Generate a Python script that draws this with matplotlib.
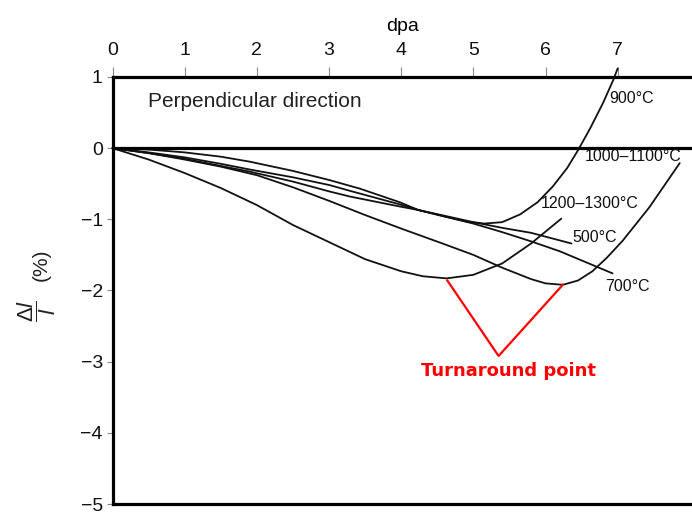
import matplotlib
matplotlib.use('Agg')
import matplotlib.pyplot as plt

plt.rcParams['font.family'] = ['Liberation Sans', 'DejaVu Sans']
plt.rcParams['mathtext.fontset'] = 'custom'
plt.rcParams['mathtext.rm'] = 'Liberation Sans'
plt.rcParams['mathtext.it'] = 'Liberation Sans:italic'

# 各温度下的尺寸变化曲线 (dpa, Δl/l %)
dpa_900 = [0, 0.5, 1.0, 1.5, 1.9, 2.5, 3.01, 3.43, 3.98, 4.24, 4.6, 4.9, 5.15, 5.4,
           5.65, 5.89, 6.1, 6.3, 6.45, 6.62, 6.8, 6.94, 7.0]
dl_900 = [0, -0.02, -0.06, -0.12, -0.19, -0.32, -0.45, -0.57, -0.76, -0.87, -0.96,
          -1.03, -1.06, -1.04, -0.93, -0.76, -0.54, -0.28, -0.03, 0.28, 0.64, 0.96, 1.12]

dpa_1000 = [0, 0.5, 1.0, 1.5, 2.0, 2.5, 3.0, 3.5, 4.0, 4.6, 5.0, 5.4, 5.8, 6.0, 6.24,
            6.45, 6.65, 6.85, 7.07, 7.44, 7.86]
dl_1000 = [0, -0.07, -0.16, -0.26, -0.38, -0.55, -0.74, -0.94, -1.13, -1.35, -1.50,
           -1.68, -1.84, -1.90, -1.92, -1.86, -1.73, -1.54, -1.30, -0.83, -0.21]

dpa_1200 = [0, 0.5, 1.0, 1.5, 2.0, 2.5, 3.0, 3.5, 4.0, 4.3, 4.63, 5.0, 5.4, 5.8, 6.22]
dl_1200 = [0, -0.16, -0.35, -0.56, -0.80, -1.08, -1.32, -1.56, -1.73, -1.80, -1.83,
           -1.78, -1.62, -1.34, -0.99]

dpa_500 = [0, 0.5, 1.0, 1.5, 1.9, 2.5, 3.01, 3.29, 3.98, 4.24, 4.6, 5.0, 5.4, 5.8, 6.36]
dl_500 = [0, -0.06, -0.13, -0.22, -0.30, -0.41, -0.52, -0.60, -0.79, -0.87, -0.95,
          -1.04, -1.12, -1.19, -1.34]

dpa_700 = [0, 0.5, 1.0, 1.5, 1.9, 2.5, 3.01, 3.29, 3.98, 4.24, 4.6, 5.0, 5.4, 5.8,
           6.2, 6.6, 6.93]
dl_700 = [0, -0.07, -0.15, -0.25, -0.33, -0.47, -0.61, -0.68, -0.82, -0.87, -0.96,
          -1.06, -1.18, -1.31, -1.45, -1.62, -1.76]

curves = [(dpa_900, dl_900), (dpa_1000, dl_1000), (dpa_1200, dl_1200),
          (dpa_500, dl_500), (dpa_700, dl_700)]

# 曲线标注及位置
labels = ['900°C', '1000–1100°C', '1200–1300°C', '500°C', '700°C']
label_pos = [(6.88, 0.70), (6.55, -0.12), (5.93, -0.78), (6.37, -1.25), (6.83, -1.94)]

# 转折点
turn_x = [4.64, 6.24]
turn_y = [-1.86, -1.92]
note_xy = (5.35, -2.92)

fig = plt.figure(figsize=(6.92, 5.13), dpi=100)
ax = fig.add_axes([0.1626, 0.0175, 0.8374, 0.8325])

for xs, ys in curves:
    ax.plot(xs, ys, color='#111111', lw=1.3, clip_on=False,
            solid_capstyle='round', solid_joinstyle='round')

for text, (tx, ty) in zip(labels, label_pos):
    ax.text(tx, ty, text, fontsize=11.5, ha='left', va='center', color='#111111')

ax.axhline(0, color='black', lw=2.3)

# 红色折线指向两个转折点
ax.plot([turn_x[0], note_xy[0], turn_x[1]], [turn_y[0], note_xy[1], turn_y[1]],
        color='red', lw=1.6)
ax.text(5.49, -3.13, 'Turnaround point', color='red', fontsize=13, fontweight='bold',
        family='DejaVu Sans', ha='center', va='center')

ax.text(0.49, 0.65, 'Perpendicular direction', fontsize=15, ha='left', va='center',
        color='#222222')

ax.set_xlim(0, 8.03)
ax.set_ylim(-5, 1)
ax.xaxis.tick_top()
ax.xaxis.set_label_position('top')
ax.set_xticks(range(0, 8))
ax.set_yticks(range(-5, 2))
ax.set_xlabel('dpa', fontsize=14, labelpad=8)
ax.tick_params(axis='both', labelsize=14, length=7, width=0.8, color='#888888',
               labelcolor='#111111', direction='out')
ax.tick_params(axis='x', pad=6)
ax.tick_params(axis='y', length=4, pad=3)

# y 轴标题: 分数 Δl/l 与 (%) 分开写, 字号不同
fig.text(0.0535, 0.394, r'$\dfrac{\Delta l}{l}$', fontsize=16, rotation=90,
         ha='center', va='center', color='#222222')
fig.text(0.0603, 0.4834, '(%)', fontsize=15, rotation=90,
         ha='center', va='center', color='#222222')

for side in ['top', 'left', 'bottom']:
    ax.spines[side].set_linewidth(2.3)
ax.spines['right'].set_visible(False)

fig.savefig('out.png', dpi=100)
